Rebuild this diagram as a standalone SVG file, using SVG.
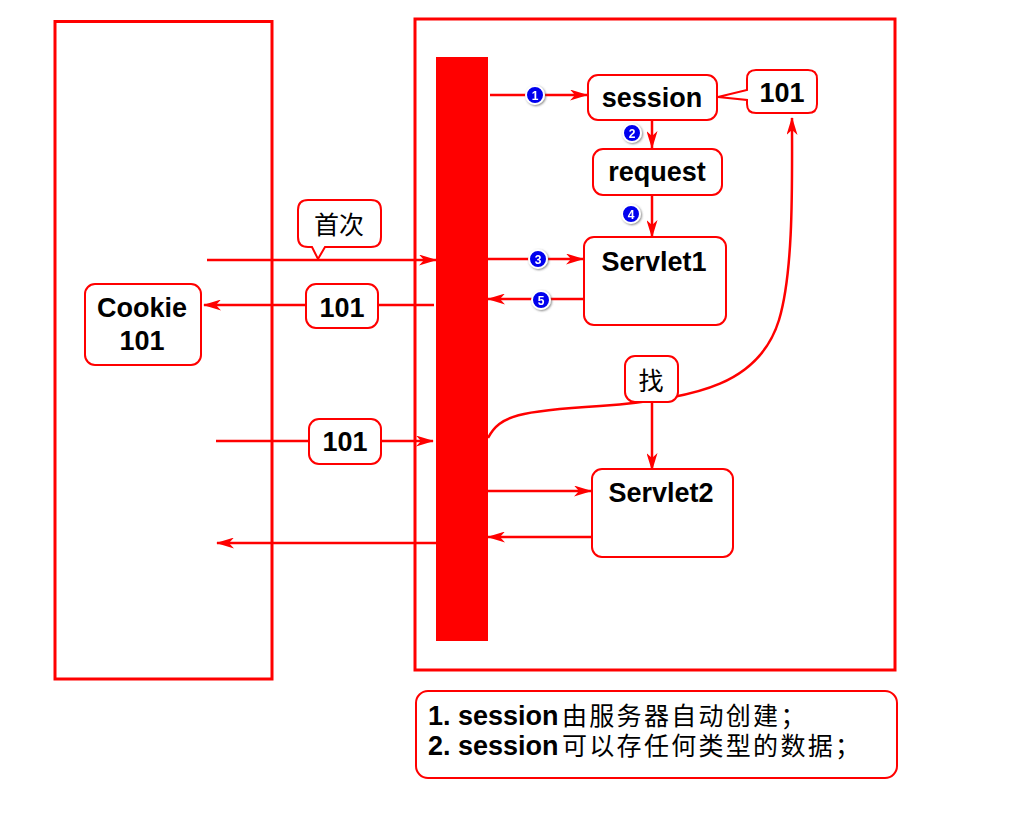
<svg xmlns="http://www.w3.org/2000/svg" width="1024" height="826" viewBox="0 0 1024 826">
<defs>
<style>
.frame{fill:none;stroke:#ff0000;stroke-width:3}
.node{fill:#ffffff;stroke:#ff0000;stroke-width:2}
.lbl{font-family:"Liberation Sans",Arial,sans-serif;font-weight:bold;font-size:27px;fill:#000;text-anchor:middle}
.cjk{font-family:"Noto Sans CJK SC",sans-serif;font-size:25px;fill:#000;text-anchor:middle}
.con{fill:none;stroke:#ff0000;stroke-width:2.5}
.num circle{fill:#0000ee;stroke:#ffffff;stroke-width:2}
.num text{font-family:"Liberation Sans",Arial,sans-serif;font-weight:bold;font-size:12px;fill:#fff;text-anchor:middle}
.nl{font-family:"Liberation Sans",Arial,sans-serif;font-weight:bold;font-size:27px;fill:#000}
.nc{font-family:"Noto Sans CJK SC",sans-serif;font-size:25px;letter-spacing:2.3px;fill:#000}
</style>
<marker id="ah" viewBox="0 0 18 11" refX="17" refY="5.5" markerWidth="18" markerHeight="11" markerUnits="userSpaceOnUse" orient="auto">
<path d="M0,0 L18,5.5 L0,11 L5,5.5 Z" fill="#ff0000"/>
</marker>
<filter id="sh" x="-50%" y="-50%" width="200%" height="200%">
<feDropShadow dx="1" dy="1" stdDeviation="0.8" flood-color="#555" flood-opacity="0.7"/>
</filter>
</defs>
<rect width="1024" height="826" fill="#ffffff"/>

<g id="client"><rect class="frame" x="55" y="21.5" width="217" height="657.5"/></g>
<g id="server"><rect class="frame" x="415" y="19" width="480" height="651"/></g>
<g id="bar"><rect x="436" y="57" width="52" height="584" fill="#ff0000"/></g>

<g id="connectors">
<line class="con" x1="490" y1="95" x2="587" y2="95" marker-end="url(#ah)"/>
<line class="con" x1="652" y1="120" x2="652" y2="148" marker-end="url(#ah)"/>
<line class="con" x1="652" y1="195" x2="652" y2="237" marker-end="url(#ah)"/>
<line class="con" x1="207" y1="260" x2="436" y2="260" marker-end="url(#ah)"/>
<line class="con" x1="488" y1="259" x2="583" y2="259" marker-end="url(#ah)"/>
<line class="con" x1="585" y1="299" x2="488" y2="299" marker-end="url(#ah)"/>
<line class="con" x1="434" y1="305" x2="204" y2="305" marker-end="url(#ah)"/>
<line class="con" x1="216" y1="441" x2="433" y2="441" marker-end="url(#ah)"/>
<path class="con" d="M488,438 C500,415 520,411 600,406 C700,399 760,382 779,320 C794,270 792,180 792,118" marker-end="url(#ah)"/>
<line class="con" x1="652" y1="402" x2="652" y2="470" marker-end="url(#ah)"/>
<line class="con" x1="488" y1="491" x2="591" y2="491" marker-end="url(#ah)"/>
<line class="con" x1="592" y1="537" x2="488" y2="537" marker-end="url(#ah)"/>
<line class="con" x1="436" y1="543" x2="217" y2="543" marker-end="url(#ah)"/>
</g>

<g id="steps" class="num" filter="url(#sh)">
<g><circle cx="535" cy="95" r="9"/><text x="535" y="99.5">1</text></g>
<g><circle cx="632" cy="133" r="9"/><text x="632" y="137.5">2</text></g>
<g><circle cx="538" cy="259" r="9"/><text x="538" y="263.5">3</text></g>
<g><circle cx="631" cy="214" r="9"/><text x="631" y="218.5">4</text></g>
<g><circle cx="541" cy="300" r="9"/><text x="541" y="304.5">5</text></g>
</g>

<g id="session"><rect class="node" x="588" y="75" width="129" height="45" rx="10"/><text class="lbl" x="652" y="107">session</text></g>
<g id="sid"><path class="node" d="M756,70 H808 Q817,70 817,79 V104 Q817,113 808,113 H756 Q747,113 747,104 V100 L718,97 L747,90 V79 Q747,70 756,70 Z"/><text class="lbl" x="782" y="102">101</text></g>
<g id="request"><rect class="node" x="593" y="149" width="129" height="46" rx="10"/><text class="lbl" x="657" y="181">request</text></g>
<g id="servlet1"><rect class="node" x="584" y="237" width="142" height="88" rx="10"/><text class="lbl" x="654" y="271">Servlet1</text></g>
<g id="servlet2"><rect class="node" x="592" y="469" width="141" height="88" rx="10"/><text class="lbl" x="661" y="502">Servlet2</text></g>
<g id="first"><path class="node" d="M308,200 H371 Q381,200 381,210 V237 Q381,247 371,247 H325 L318,259 L312,247 H308 Q298,247 298,237 V210 Q298,200 308,200 Z"/><text class="cjk" x="339" y="234">首次</text></g>
<g id="resp101"><rect class="node" x="306" y="284" width="72" height="44" rx="10"/><text class="lbl" x="342" y="317">101</text></g>
<g id="cookie"><rect class="node" x="85" y="284" width="116" height="81" rx="10"/><text class="lbl" x="142" y="317">Cookie</text><text class="lbl" x="142" y="350">101</text></g>
<g id="req101"><rect class="node" x="309" y="419" width="72" height="45" rx="10"/><text class="lbl" x="345" y="451">101</text></g>
<g id="find"><rect class="node" x="625" y="356" width="53" height="46" rx="10"/><text class="cjk" x="651" y="390">找</text></g>

<g id="note">
<rect class="node" x="416" y="691" width="481" height="87" rx="12"/>
<text class="nl" x="428" y="725">1. session</text>
<text class="nc" x="562" y="725">由服务器自动创建；</text>
<text class="nl" x="428" y="755">2. session</text>
<text class="nc" x="562" y="755">可以存任何类型的数据；</text>
</g>
</svg>
